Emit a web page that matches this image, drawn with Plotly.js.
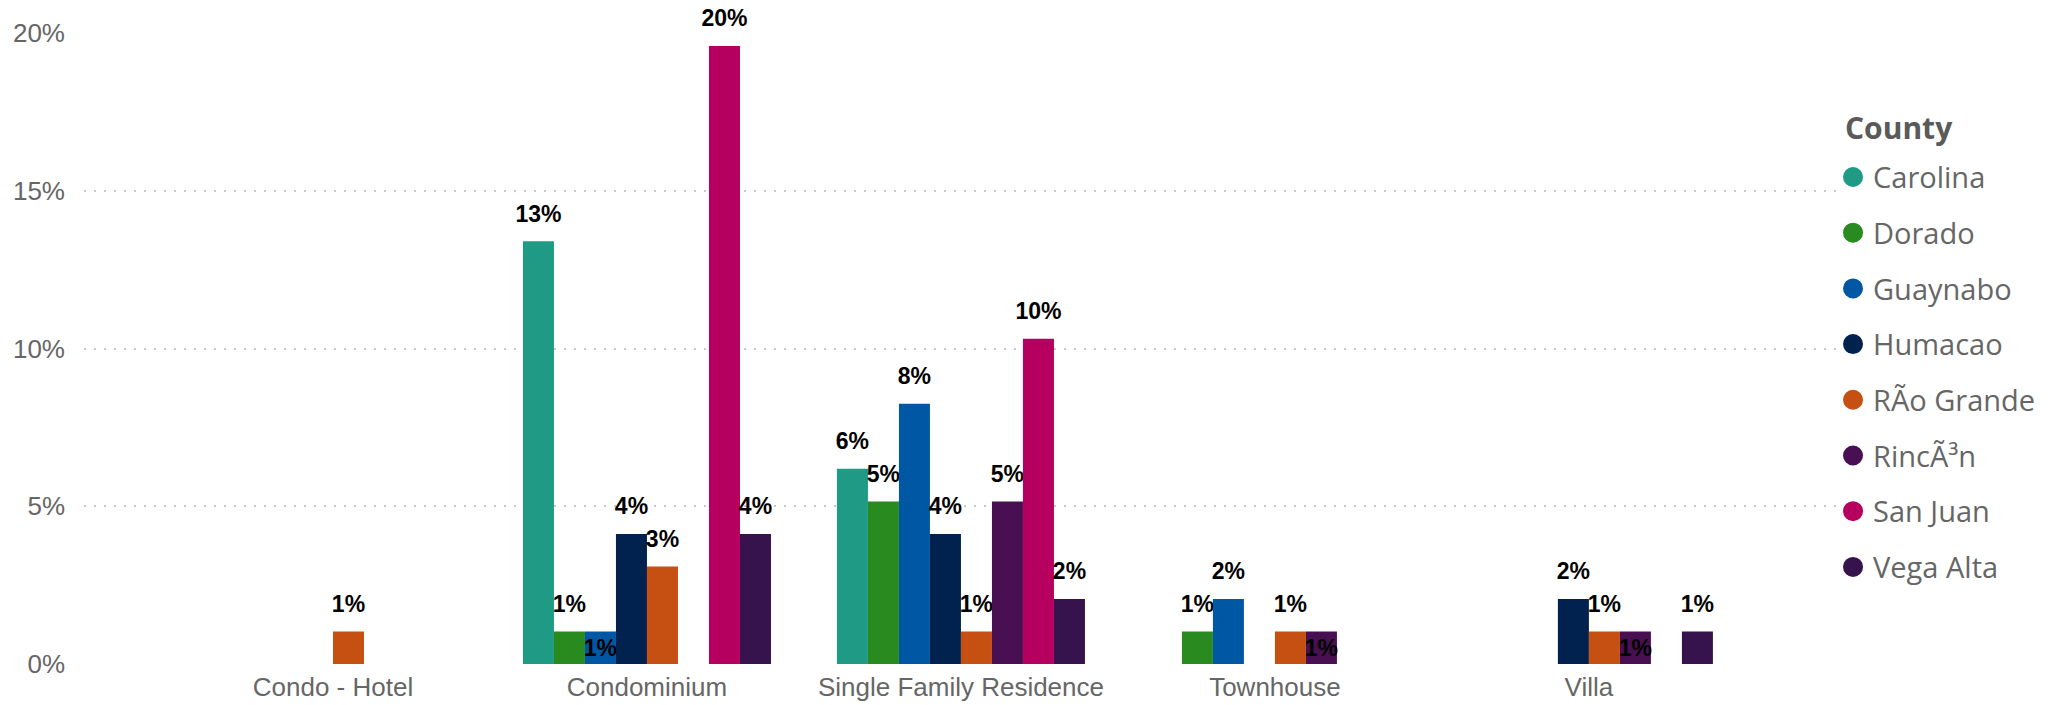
<!DOCTYPE html>
<html>
<head>
<meta charset="utf-8">
<script src="https://cdn.plot.ly/plotly-3.0.1.min.js"></script>
<style>html,body{margin:0;padding:0;background:#fff;}#chart{width:2067px;height:705px;}</style>
</head>
<body>
<div id="chart"></div>
<script>
// ---- data ----
const categories = ['Condo - Hotel', 'Condominium', 'Single Family Residence', 'Townhouse', 'Villa'];
const counties = ['Carolina', 'Dorado', 'Guaynabo', 'Humacao', 'RÃo Grande', 'RincÃ³n', 'San Juan', 'Vega Alta'];
const legendTitle = 'County';

const carolina  = [null,   0.1340, 0.0619, null,   null];
const dorado    = [null,   0.0103, 0.0515, 0.0103, null];
const guaynabo  = [null,   0.0103, 0.0825, 0.0206, null];
const humacao   = [null,   0.0412, 0.0412, null,   0.0206];
const rioGrande = [0.0103, 0.0309, 0.0103, 0.0103, 0.0103];
const rincon    = [null,   null,   0.0515, 0.0103, 0.0103];
const sanJuan   = [null,   0.1959, 0.1031, null,   null];
const vegaAlta  = [null,   0.0412, 0.0206, null,   0.0103];

const seriesValues = [carolina, dorado, guaynabo, humacao, rioGrande, rincon, sanJuan, vegaAlta];

// labels that sit inside their bar instead of above it
const insideLabels = [['Guaynabo', 'Condominium'], ['RincÃ³n', 'Townhouse'], ['RincÃ³n', 'Villa']];

// ---- styles ----
const colors = ['#1F9A85', '#288A1F', '#0057A3', '#01214F', '#C65012', '#480F52', '#B6005F', '#37134D'];
const LABEL_PAD = 0.0037;
const labelFont = {family: 'Liberation Sans, Arial, sans-serif', size: 23, color: '#000', weight: 'bold'};

function fmt(v) { return Math.round(v * 100) + '%'; }
function isInside(c, cat) { return insideLabels.some(p => p[0] === c && p[1] === cat); }

const traces = [];
counties.forEach((c, i) => {
  const vals = seriesValues[i];
  const inside = vals.map((v, j) => v != null && isInside(c, categories[j]));
  traces.push({
    type: 'bar', x: categories, y: vals, name: c, offsetgroup: 'g' + i,
    marker: {color: colors[i]}, showlegend: false,
    text: vals.map((v, j) => inside[j] ? '<b>' + fmt(v) + '</b>' : ''),
    textposition: 'inside', insidetextanchor: 'middle', textangle: 0,
    constraintext: 'none', textfont: labelFont, cliponaxis: false,
    hovertemplate: '%{x}<br>' + c + ': %{y:.2%}<extra></extra>'
  });
  traces.push({
    type: 'bar', x: categories,
    y: vals.map(v => v == null ? null : LABEL_PAD),
    base: vals.map(v => v == null ? null : v),
    offsetgroup: 'g' + i, showlegend: false,
    marker: {color: 'rgba(0,0,0,0)'},
    text: vals.map((v, j) => (v != null && !inside[j]) ? '<b>' + fmt(v) + '</b>' : ''),
    textposition: 'outside', textangle: 0, constraintext: 'none',
    textfont: labelFont, cliponaxis: false, hoverinfo: 'skip'
  });
});
counties.forEach((c, i) => {
  traces.push({
    type: 'scatter', mode: 'markers', x: [null], y: [null], name: c,
    legendgroup: c,
    marker: {color: colors[i], size: 16, symbol: 'circle', line: {color: colors[i], width: 4}},
    hoverinfo: 'skip'
  });
});

const layout = {
  width: 2067, height: 705,
  margin: {l: 84, r: 231, t: 33, b: 41, pad: 0},
  paper_bgcolor: '#fff', plot_bgcolor: '#fff',
  barmode: 'group', bargap: 0.21, bargroupgap: 0,
  font: {family: 'Liberation Sans, Arial, sans-serif', color: '#666'},
  xaxis: {
    type: 'category', categoryorder: 'array', categoryarray: categories,
    range: [-0.793, 4.787], showgrid: false, zeroline: false, showline: false,
    ticks: '', ticklabelstandoff: 5,
    tickfont: {family: 'Liberation Sans, Arial, sans-serif', size: 26, color: '#666'}
  },
  yaxis: {
    range: [0, 0.2], dtick: 0.05, tickformat: '.0%',
    showgrid: true, gridcolor: '#c8c8c8', gridwidth: 2, griddash: '2px,8px',
    zeroline: false, showline: false, ticks: '', ticklabelstandoff: 18,
    tickfont: {family: 'Liberation Sans, Arial, sans-serif', size: 26, color: '#666'}
  },
  showlegend: true,
  legend: {
    x: 0.9983, xanchor: 'left', y: 0.812, yanchor: 'top',
    bgcolor: 'rgba(0,0,0,0)', borderwidth: 0,
    traceorder: 'grouped', tracegroupgap: 15, itemwidth: 30,
    font: {family: 'Open Sans, Noto Sans, sans-serif', size: 29, color: '#666'}
  },
  annotations: [{
    text: '<b>' + legendTitle + '</b>', xref: 'paper', yref: 'paper',
    x: 1.004, xanchor: 'left', y: 0.851, yanchor: 'middle', showarrow: false,
    font: {family: 'Open Sans, Noto Sans, sans-serif', size: 30, color: '#5a5a5a'}
  }],
  hovermode: 'closest'
};

Plotly.newPlot('chart', traces, layout, {displayModeBar: false, responsive: false});
</script>
</body>
</html>
